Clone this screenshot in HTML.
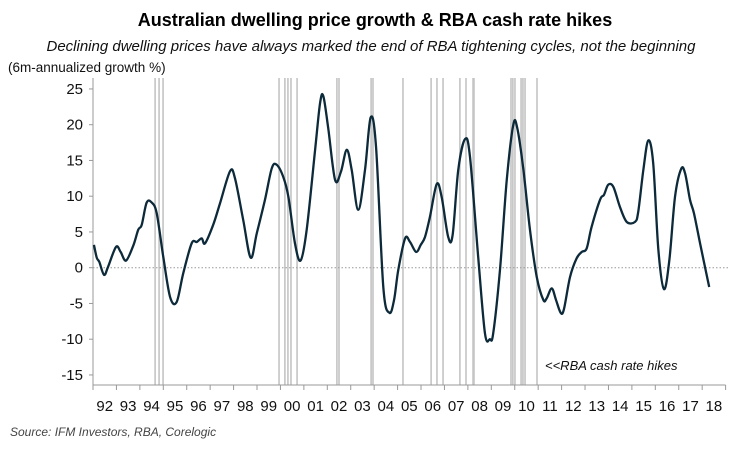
<!DOCTYPE html>
<html><head><meta charset="utf-8"><style>
body{margin:0;background:#fff;width:750px;height:450px;overflow:hidden;font-family:"Liberation Sans",sans-serif}
svg{display:block}
</style></head><body>
<svg id="c" width="750" height="450">
<text x="375" y="26" text-anchor="middle" font-size="18" font-weight="bold" fill="#000">Australian dwelling price growth &amp; RBA cash rate hikes</text>
<text x="371" y="51" text-anchor="middle" font-size="15" font-style="italic" fill="#111">Declining dwelling prices have always marked the end of RBA tightening cycles, not the beginning</text>
<text x="8" y="72" font-size="13.5" fill="#111">(6m-annualized growth %)</text>
<text x="545" y="370" font-size="13" font-style="italic" fill="#111">&lt;&lt;RBA cash rate hikes</text>
<text x="10" y="436" font-size="12" font-style="italic" fill="#444">Source: IFM Investors, RBA, Corelogic</text>
<g id="hikes"></g><g id="axes"></g><g id="series"></g>
</svg>
<script>
const yTicks=[25,20,15,10,5,0,-5,-10,-15];
const yearLabels=["92","93","94","95","96","97","98","99","00","01","02","03","04","05","06","07","08","09","10","11","12","13","14","15","16","17","18"];
const hikeDates=[1994.65,1994.82,1994.99,1999.94,2000.19,2000.32,2000.45,2000.71,2002.41,2002.50,2003.87,2003.95,2005.23,2006.43,2006.68,2006.94,2007.66,2007.92,2008.22,2008.26,2009.84,2009.92,2010.01,2010.27,2010.35,2010.44,2010.95];
const dates=[0.04,0.16,0.27,0.47,0.64,0.98,1.18,1.41,1.72,1.93,2.08,2.29,2.51,2.72,3.0,3.29,3.57,3.85,4.21,4.43,4.64,4.78,5.13,5.42,5.85,6.06,6.41,6.73,6.99,7.34,7.63,7.84,8.12,8.34,8.62,8.86,9.12,9.48,9.69,9.83,10.04,10.33,10.58,10.83,11.04,11.32,11.61,11.85,12.08,12.39,12.65,12.85,13.03,13.32,13.53,13.79,13.99,14.17,14.38,14.67,14.88,15.16,15.35,15.59,15.88,16.09,16.44,16.73,16.94,17.08,17.37,17.66,17.94,18.11,18.37,18.65,18.94,19.22,19.36,19.58,19.76,19.96,20.10,20.36,20.64,20.86,21.07,21.28,21.64,21.81,21.99,22.21,22.49,22.78,23.13,23.27,23.49,23.70,23.91,24.13,24.37,24.60,24.84,25.10,25.27,25.48,25.65,25.91,26.12,26.30];
const growth=[3.2,1.4,0.8,-1.0,0.1,2.9,2.2,1.0,3.1,5.3,6.0,9.1,9.1,7.6,1.5,-4.1,-4.8,-0.8,3.4,3.6,4.1,3.4,6.0,9.0,13.5,12.5,6.7,1.4,4.8,9.5,13.9,14.4,12.7,9.9,3.4,1.0,5.3,16.5,23.0,24.0,19.5,12.3,13.4,16.5,13.7,8.1,13.7,21.0,16.9,-2.7,-6.3,-4.5,-0.3,4.1,3.6,2.2,3.2,4.3,7.1,11.7,9.9,4.3,4.6,13.7,18.0,15.5,1.5,-9.2,-10.0,-9.2,-0.3,12.3,20.0,19.5,13.7,5.3,-1.3,-4.5,-4.3,-2.9,-4.5,-6.3,-5.8,-1.3,1.3,2.2,2.7,5.7,9.5,10.2,11.6,11.3,8.5,6.4,6.4,7.8,13.7,17.8,14.6,2.5,-3.0,1.1,9.9,13.8,13.2,9.5,7.6,3.4,0.1,-2.7];
const NS="http://www.w3.org/2000/svg";
const X0=93,YW=23.43,Y0=267.7,YS=7.15,TOP=78,BOT=385;
const xs=t=>X0+t*YW;
const xd=d=>xs(d-1992);
const ys=v=>Y0-v*YS;
function mk(tag,attrs,parent){const e=document.createElementNS(NS,tag);for(const k in attrs)e.setAttribute(k,attrs[k]);parent.appendChild(e);return e;}
const hk=document.getElementById('hikes'),ax=document.getElementById('axes'),se=document.getElementById('series');
hikeDates.forEach(d=>{
 const l=mk('line',{x1:xd(d),x2:xd(d),y1:TOP,y2:BOT,stroke:'#c4c4c4','stroke-width':1.6},hk);
 
 
});
const ya=mk('line',{x1:X0,x2:X0,y1:TOP,y2:BOT,stroke:'#999','stroke-width':1},ax);


const xa=mk('line',{x1:X0,x2:xs(yearLabels.length),y1:BOT,y2:BOT,stroke:'#999','stroke-width':1},ax);


const z=mk('line',{x1:X0,x2:730,y1:ys(0),y2:ys(0),stroke:'#999','stroke-width':1,'stroke-dasharray':'1.5,2'},ax);


yTicks.forEach(v=>{
 mk('line',{x1:X0-4,x2:X0,y1:ys(v),y2:ys(v),stroke:'#999'},ax);
 const t=mk('text',{x:X0-10,y:ys(v)+5,'text-anchor':'end','font-size':15,fill:'#111'},ax);
 t.textContent=v;
 
 
});
for(let i=0;i<=yearLabels.length;i++){mk('line',{x1:xs(i),x2:xs(i),y1:BOT,y2:BOT+5,stroke:'#999'},ax);}
yearLabels.forEach((s,i)=>{
 const t=mk('text',{x:xs(i+0.5),y:411,'text-anchor':'middle','font-size':15,fill:'#111'},ax);
 t.textContent=s;
 
 
});
const P=dates.map((d,i)=>[xs(d),ys(growth[i])]);
let d='M'+P[0][0]+','+P[0][1];
for(let i=0;i<P.length-1;i++){
 const p0=P[i-1]||P[i],p1=P[i],p2=P[i+1],p3=P[i+2]||p2;
 const c1=[p1[0]+(p2[0]-p0[0])/6,p1[1]+(p2[1]-p0[1])/6],c2=[p2[0]-(p3[0]-p1[0])/6,p2[1]-(p3[1]-p1[1])/6];
 d+=`C${c1[0]},${c1[1]} ${c2[0]},${c2[1]} ${p2[0]},${p2[1]}`;
}
const line=mk('path',{d:d,fill:'none',stroke:'#0d2a3a','stroke-width':2.3,'stroke-linejoin':'round'},se);


</script>
</body></html>
